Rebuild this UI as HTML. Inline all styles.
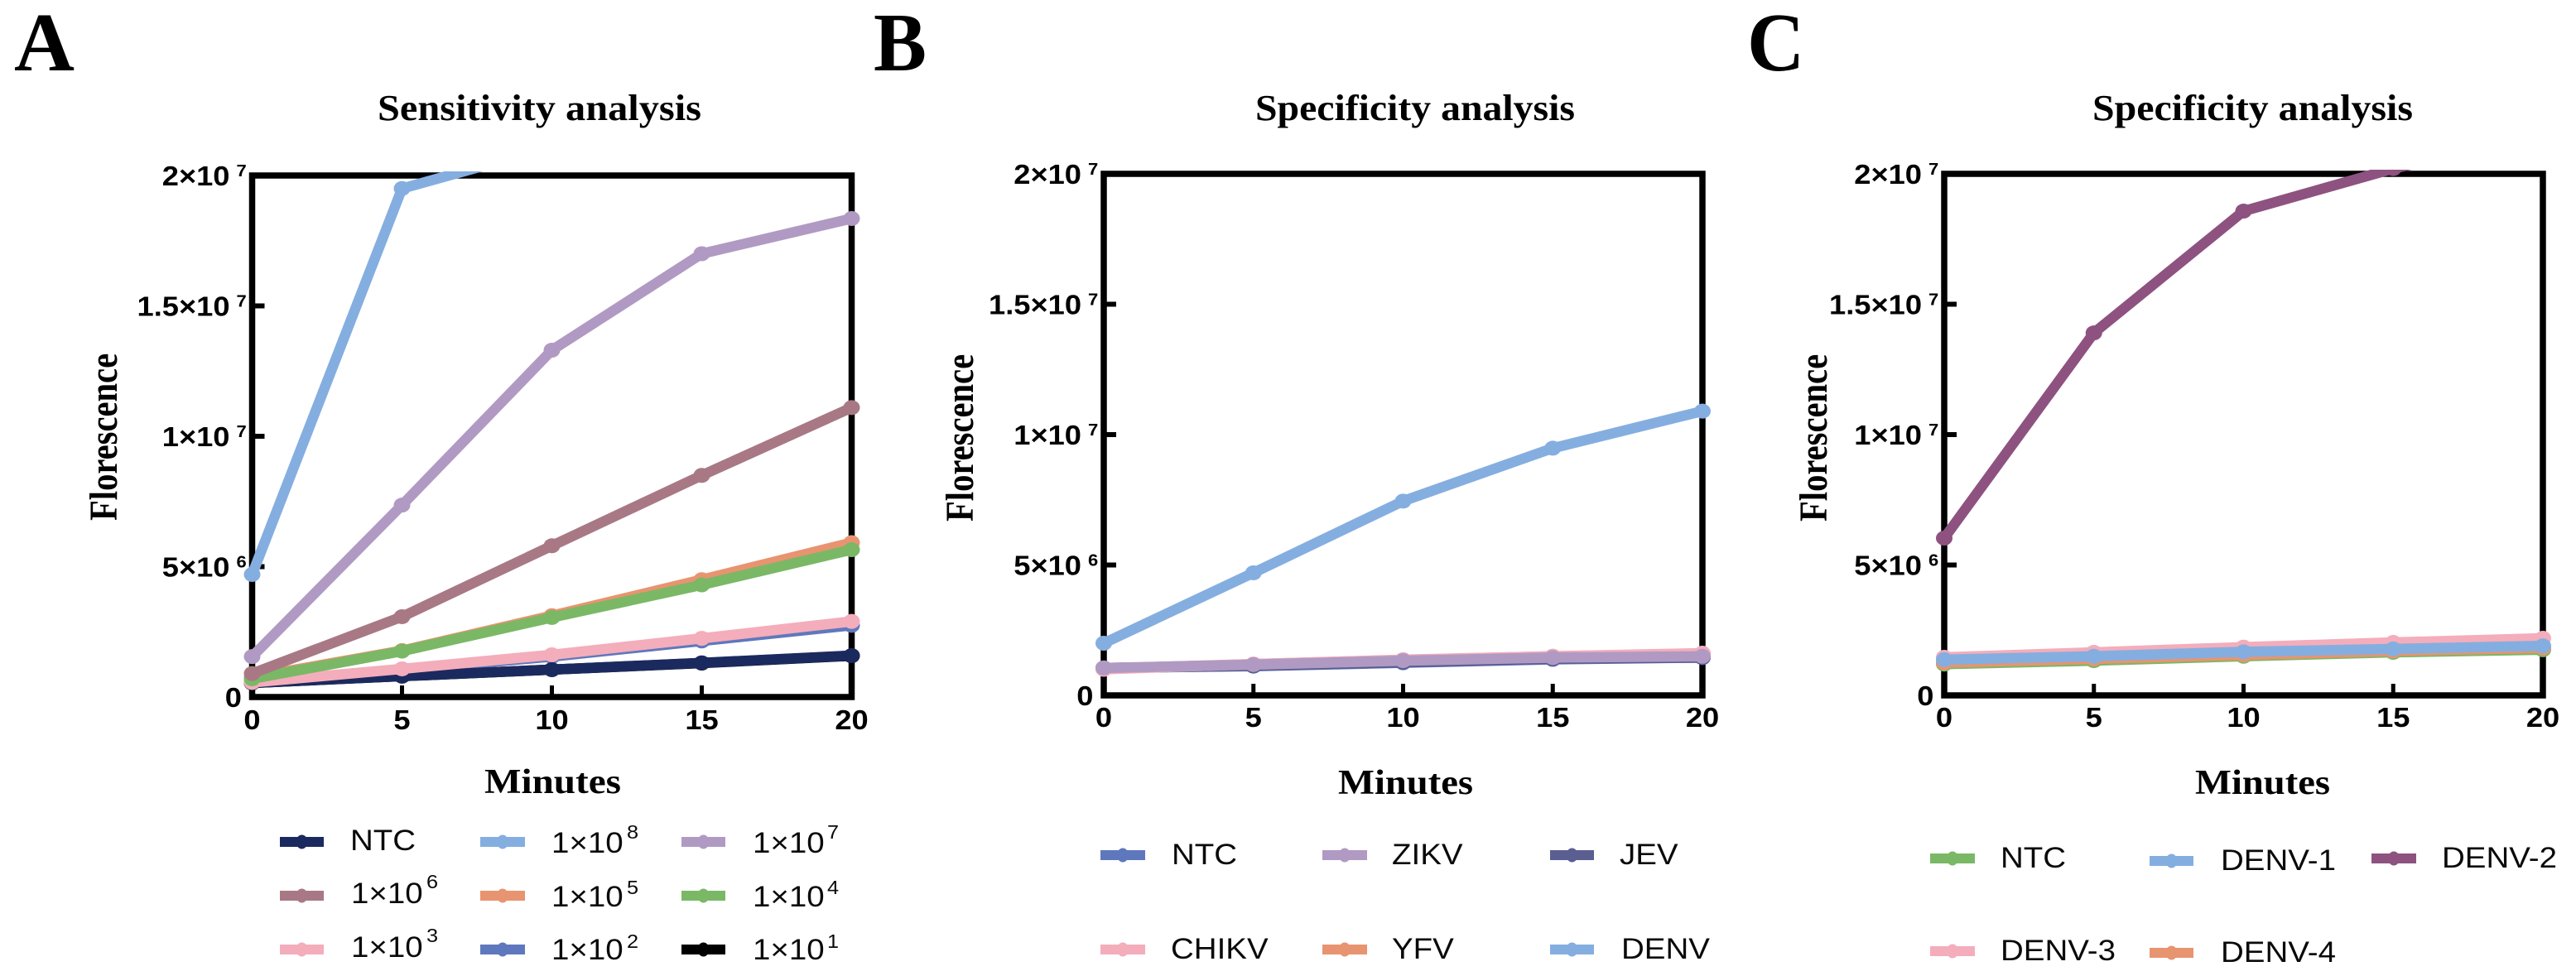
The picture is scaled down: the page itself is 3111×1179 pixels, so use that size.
<!DOCTYPE html>
<html lang="en">
<head>
<meta charset="utf-8">
<title>Sensitivity and specificity analysis</title>
<style>
html,body{margin:0;padding:0;background:#fff;}
svg{display:block;}
.ser{font-family:"Liberation Serif",serif;font-weight:bold;fill:#000;}
.san{font-family:"Liberation Sans",sans-serif;fill:#0a0a0a;}
.lg{font-size:35px;}
.sp{font-size:23px;}
.ttl{font-size:44px;}
.let{font-size:101px;}
.min{font-size:42px;}
.yt{font-size:40.6px;}
</style>
</head>
<body>
<svg id="fig" xmlns="http://www.w3.org/2000/svg" width="3111" height="1179" viewBox="0 0 3111 1179">
<rect width="3111" height="1179" fill="#fff"/>

<text class="ser let" transform="translate(17 85) scale(1 1)">A</text>
<text class="ser let" transform="translate(1055 85) scale(0.95 1)">B</text>
<text class="ser let" transform="translate(2110 85) scale(0.95 1)">C</text>

<text class="ser ttl" x="456" y="145" textLength="391" lengthAdjust="spacingAndGlyphs">Sensitivity analysis</text>
<text class="ser ttl" x="1516" y="145" textLength="386" lengthAdjust="spacingAndGlyphs">Specificity analysis</text>
<text class="ser ttl" x="2527" y="145" textLength="387" lengthAdjust="spacingAndGlyphs">Specificity analysis</text>

<text class="ser yt" transform="translate(141 629) scale(1.17 1) rotate(-90)">Florescence</text>
<text class="ser yt" transform="translate(1175 630) scale(1.17 1) rotate(-90)">Florescence</text>
<text class="ser yt" transform="translate(2206 630) scale(1.17 1) rotate(-90)">Florescence</text>

<text class="ser min" x="585" y="958" textLength="165" lengthAdjust="spacingAndGlyphs">Minutes</text>
<text class="ser min" x="1616" y="959" textLength="163" lengthAdjust="spacingAndGlyphs">Minutes</text>
<text class="ser min" x="2651" y="959" textLength="163" lengthAdjust="spacingAndGlyphs">Minutes</text>

<!-- Panel A legend -->
<g>
<g><rect x="338" y="1011" width="53" height="12" fill="#1b2a5e"/><ellipse cx="364.5" cy="1017" rx="7" ry="8.5" fill="#1b2a5e"/><text class="san lg" transform="translate(423 1027) scale(1.1 1)">NTC</text></g>
<g><rect x="580" y="1011" width="54" height="12" fill="#85aee0"/><ellipse cx="607" cy="1017" rx="7" ry="8.5" fill="#85aee0"/><text class="san lg" transform="translate(666 1030) scale(1.1 1)">1×10</text><text class="san sp" transform="translate(757 1013) scale(1.1 1)">8</text></g>
<g><rect x="823" y="1011" width="53" height="12" fill="#b09ac3"/><ellipse cx="849.5" cy="1017" rx="7" ry="8.5" fill="#b09ac3"/><text class="san lg" transform="translate(909 1030) scale(1.1 1)">1×10</text><text class="san sp" transform="translate(999 1013) scale(1.1 1)">7</text></g>
<g><rect x="338" y="1076" width="53" height="12" fill="#a87985"/><ellipse cx="364.5" cy="1082" rx="7" ry="8.5" fill="#a87985"/><text class="san lg" transform="translate(424 1091) scale(1.1 1)">1×10</text><text class="san sp" transform="translate(515 1073) scale(1.1 1)">6</text></g>
<g><rect x="580" y="1076" width="54" height="12" fill="#e89470"/><ellipse cx="607" cy="1082" rx="7" ry="8.5" fill="#e89470"/><text class="san lg" transform="translate(666 1095) scale(1.1 1)">1×10</text><text class="san sp" transform="translate(757 1080) scale(1.1 1)">5</text></g>
<g><rect x="823" y="1076" width="53" height="12" fill="#7ab866"/><ellipse cx="849.5" cy="1082" rx="7" ry="8.5" fill="#7ab866"/><text class="san lg" transform="translate(909 1095) scale(1.1 1)">1×10</text><text class="san sp" transform="translate(999 1080) scale(1.1 1)">4</text></g>
<g><rect x="338" y="1141" width="53" height="12" fill="#f4adbb"/><ellipse cx="364.5" cy="1147" rx="7" ry="8.5" fill="#f4adbb"/><text class="san lg" transform="translate(424 1156) scale(1.1 1)">1×10</text><text class="san sp" transform="translate(515 1138) scale(1.1 1)">3</text></g>
<g><rect x="580" y="1141" width="54" height="12" fill="#5f78bd"/><ellipse cx="607" cy="1147" rx="7" ry="8.5" fill="#5f78bd"/><text class="san lg" transform="translate(666 1159) scale(1.1 1)">1×10</text><text class="san sp" transform="translate(757 1145) scale(1.1 1)">2</text></g>
<g><rect x="823" y="1141" width="53" height="12" fill="#000"/><ellipse cx="849.5" cy="1147" rx="7" ry="8.5" fill="#000"/><text class="san lg" transform="translate(909 1159) scale(1.1 1)">1×10</text><text class="san sp" transform="translate(999 1145) scale(1.1 1)">1</text></g>
</g>

<!-- Panel B legend -->
<g>
<g><rect x="1329" y="1027" width="54" height="12" fill="#5f78bd"/><ellipse cx="1356" cy="1033" rx="7" ry="8.5" fill="#5f78bd"/><text class="san lg" transform="translate(1415 1044) scale(1.1 1)">NTC</text></g>
<g><rect x="1597" y="1027" width="54" height="12" fill="#b09ac3"/><ellipse cx="1624" cy="1033" rx="7" ry="8.5" fill="#b09ac3"/><text class="san lg" transform="translate(1681 1044) scale(1.1 1)">ZIKV</text></g>
<g><rect x="1872" y="1027" width="53" height="12" fill="#5a5e90"/><ellipse cx="1898.5" cy="1033" rx="7" ry="8.5" fill="#5a5e90"/><text class="san lg" transform="translate(1956 1044) scale(1.1 1)">JEV</text></g>
<g><rect x="1329" y="1141" width="54" height="12" fill="#f4adbb"/><ellipse cx="1356" cy="1147" rx="7" ry="8.5" fill="#f4adbb"/><text class="san lg" transform="translate(1414 1158) scale(1.1 1)">CHIKV</text></g>
<g><rect x="1597" y="1141" width="54" height="12" fill="#e89470"/><ellipse cx="1624" cy="1147" rx="7" ry="8.5" fill="#e89470"/><text class="san lg" transform="translate(1681 1158) scale(1.1 1)">YFV</text></g>
<g><rect x="1872" y="1141" width="53" height="12" fill="#85aee0"/><ellipse cx="1898.5" cy="1147" rx="7" ry="8.5" fill="#85aee0"/><text class="san lg" transform="translate(1958 1158) scale(1.1 1)">DENV</text></g>
</g>

<!-- Panel C legend -->
<g>
<g><rect x="2331" y="1031" width="54" height="12" fill="#7ab866"/><ellipse cx="2358" cy="1037" rx="7" ry="8.5" fill="#7ab866"/><text class="san lg" transform="translate(2416 1048) scale(1.1 1)">NTC</text></g>
<g><rect x="2596" y="1034" width="53" height="12" fill="#85aee0"/><ellipse cx="2622.5" cy="1040" rx="7" ry="8.5" fill="#85aee0"/><text class="san lg" transform="translate(2682 1051) scale(1.1 1)">DENV-1</text></g>
<g><rect x="2864" y="1031" width="54" height="12" fill="#8e5280"/><ellipse cx="2891" cy="1037" rx="7" ry="8.5" fill="#8e5280"/><text class="san lg" transform="translate(2949 1048) scale(1.1 1)">DENV-2</text></g>
<g><rect x="2331" y="1143" width="54" height="12" fill="#f4adbb"/><ellipse cx="2358" cy="1149" rx="7" ry="8.5" fill="#f4adbb"/><text class="san lg" transform="translate(2416 1160) scale(1.1 1)">DENV-3</text></g>
<g><rect x="2596" y="1145" width="53" height="12" fill="#e89470"/><ellipse cx="2622.5" cy="1151" rx="7" ry="8.5" fill="#e89470"/><text class="san lg" transform="translate(2682 1162) scale(1.1 1)">DENV-4</text></g>
</g>
</svg>

<script>
// Shared axis data
const minutes = [0, 5, 10, 15, 20];
const xTickLabels = ['0', '5', '10', '15', '20'];
const yTickValues = [0, 5000000, 10000000, 15000000, 20000000];
const yTickLabels = ['0', '5×10', '1×10', '1.5×10', '2×10'];
const yTickExponents = ['', '6', '7', '7', '7'];

// Panel A values
const a1e1 = [540000, 800000, 1050000, 1300000, 1580000];
const aNtc = [540000, 800000, 1050000, 1310000, 1590000];
const a1e2 = [560000, 1050000, 1550000, 2150000, 2750000];
const a1e3 = [560000, 1080000, 1620000, 2250000, 2900000];
const a1e5 = [760000, 1780000, 3120000, 4500000, 5920000];
const a1e4 = [700000, 1760000, 3050000, 4300000, 5650000];
const a1e6 = [900000, 3080000, 5800000, 8500000, 11100000];
const a1e7 = [1550000, 7360000, 13300000, 17000000, 18350000];
const a1e8 = [4700000, 19500000, 21100000, 23000000, 25000000];

// Panel B values
const bNtc = [1050000, 1120000, 1250000, 1380000, 1450000];
const bJev = [1050000, 1130000, 1270000, 1400000, 1450000];
const bYfv = [1030000, 1200000, 1360000, 1500000, 1600000];
const bChikv = [1000000, 1200000, 1370000, 1500000, 1620000];
const bZikv = [1050000, 1180000, 1330000, 1450000, 1500000];
const bDenv = [2000000, 4700000, 7450000, 9480000, 10900000];

// Panel C values
const cNtc = [1200000, 1330000, 1500000, 1650000, 1750000];
const cDenv4 = [1250000, 1400000, 1550000, 1700000, 1820000];
const cDenv3 = [1460000, 1650000, 1850000, 2030000, 2190000];
const cDenv1 = [1370000, 1500000, 1670000, 1780000, 1900000];
const cDenv2 = [6030000, 13900000, 18570000, 20200000, 21500000];

const svgNS = 'http://www.w3.org/2000/svg';
const fig = document.getElementById('fig');

function make(parent, tag, attrs, text) {
  const el = document.createElementNS(svgNS, tag);
  for (const k in attrs) el.setAttribute(k, attrs[k]);
  if (text !== undefined) el.textContent = text;
  parent.appendChild(el);
  return el;
}

function drawPanel(id, box, seriesList) {
  const xMax = minutes[minutes.length - 1];
  const yMax = yTickValues[yTickValues.length - 1];
  const xScale = function (t) { return box.left + (box.right - box.left) * t / xMax; };
  const yScale = function (v) { return box.bottom + (box.top - box.bottom) * v / yMax; };

  const g = make(fig, 'g', {});
  
  

  const frame = make(g, 'rect', {
    x: box.left, y: yScale(yMax), width: box.right - box.left, height: box.bottom - box.top,
    fill: 'none', stroke: '#000', 'stroke-width': 7.5
  });
  
  

  yTickValues.forEach(function (v, i) {
    const y = yScale(v);
    if (i > 0 && i < yTickValues.length - 1) {
      const tick = make(g, 'line', { x1: box.left, x2: box.left + 15, y1: y, y2: y, stroke: '#000', 'stroke-width': 6 });
      
      
    }
    const labelRight = i === 0 ? box.left - 12.5 : box.left - 27;
    const label = make(g, 'text', {
      transform: 'translate(' + labelRight + ' ' + (y + 12) + ') scale(1.1 1)',
      'text-anchor': 'end',
      'font-family': '"Liberation Sans", sans-serif', 'font-weight': 'bold', 'font-size': 33, fill: '#000'
    }, yTickLabels[i]);
    
    
    if (yTickExponents[i]) {
      const exp = make(g, 'text', {
        transform: 'translate(' + (box.left - 19) + ' ' + (y + 1) + ') scale(1.1 1)',
        'font-family': '"Liberation Sans", sans-serif', 'font-weight': 'bold', 'font-size': 20, fill: '#000'
      }, yTickExponents[i]);
      
      
    }
  });

  minutes.forEach(function (t, i) {
    const x = xScale(t);
    if (i > 0 && i < minutes.length - 1) {
      const tick = make(g, 'line', { x1: x, x2: x, y1: box.bottom, y2: box.bottom - 14, stroke: '#000', 'stroke-width': 5 });
      
      
    }
    const label = make(g, 'text', {
      transform: 'translate(' + x + ' ' + box.tickBase + ') scale(1.1 1)',
      'text-anchor': 'middle',
      'font-family': '"Liberation Sans", sans-serif', 'font-weight': 'bold', 'font-size': 33, fill: '#000'
    }, xTickLabels[i]);
    
    
  });

  const clip = make(g, 'clipPath', { id: 'clip-' + id });
  make(clip, 'rect', { x: box.left - 30, y: box.top - 5, width: box.right - box.left + 60, height: box.bottom - box.top + 30 });

  const marks = make(g, 'g', { 'clip-path': 'url(#clip-' + id + ')' });
  
  

  seriesList.forEach(function (s) {
    const pts = minutes.map(function (t, i) { return xScale(t) + ',' + yScale(s.values[i]); }).join(' ');
    const line = make(marks, 'polyline', {
      points: pts, fill: 'none', stroke: s.color, 'stroke-width': box.lineWidth, 'stroke-linejoin': 'round'
    });
    
    
    minutes.forEach(function (t, i) {
      const dot = make(marks, 'ellipse', { cx: xScale(t), cy: yScale(s.values[i]), rx: 10, ry: 9, fill: s.color });
      
      
    });
  });
}

drawPanel('a', { left: 304.5, right: 1028.5, top: 212, bottom: 842, tickBase: 881, lineWidth: 12.5 }, [
  { key: '1e1', color: '#000000', values: a1e1 },
  { key: '1e2', color: '#5f78bd', values: a1e2 },
  { key: 'ntc', color: '#1b2a5e', values: aNtc },
  { key: '1e3', color: '#f4adbb', values: a1e3 },
  { key: '1e5', color: '#e89470', values: a1e5 },
  { key: '1e4', color: '#7ab866', values: a1e4 },
  { key: '1e6', color: '#a87985', values: a1e6 },
  { key: '1e7', color: '#b09ac3', values: a1e7 },
  { key: '1e8', color: '#85aee0', values: a1e8 }
]);

drawPanel('b', { left: 1333, right: 2056, top: 210, bottom: 840, tickBase: 878, lineWidth: 12.5 }, [
  { key: 'ntc', color: '#5f78bd', values: bNtc },
  { key: 'jev', color: '#5a5e90', values: bJev },
  { key: 'yfv', color: '#e89470', values: bYfv },
  { key: 'chikv', color: '#f4adbb', values: bChikv },
  { key: 'zikv', color: '#b09ac3', values: bZikv },
  { key: 'denv', color: '#85aee0', values: bDenv }
]);

drawPanel('c', { left: 2348, right: 3071, top: 210, bottom: 840, tickBase: 878, lineWidth: 12.5 }, [
  { key: 'ntc', color: '#7ab866', values: cNtc },
  { key: 'denv-4', color: '#e89470', values: cDenv4 },
  { key: 'denv-3', color: '#f4adbb', values: cDenv3 },
  { key: 'denv-1', color: '#85aee0', values: cDenv1 },
  { key: 'denv-2', color: '#8e5280', values: cDenv2 }
]);
</script>
</body>
</html>
